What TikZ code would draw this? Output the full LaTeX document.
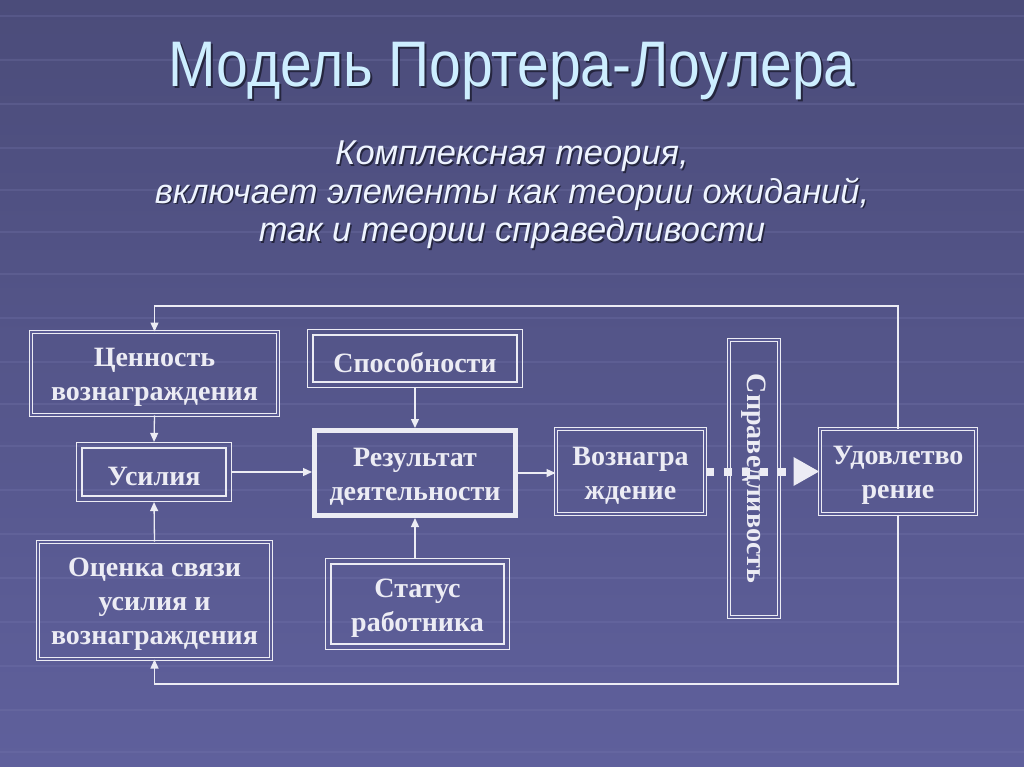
\documentclass[tikz,border=0pt]{standalone}
\usepackage{fontspec}
\setmainfont{Liberation Serif}
\newfontfamily\titlefont{Liberation Sans}
\usetikzlibrary{arrows.meta}
\definecolor{bgtop}{HTML}{4B4C7A}
\definecolor{bgbot}{HTML}{5F609C}
\definecolor{linecol}{HTML}{ECECF4}
\definecolor{titlecol}{HTML}{CDEEFF}
\definecolor{subcol}{HTML}{EEF4FF}
\definecolor{shadowcol}{HTML}{25263F}
\definecolor{gridcol}{HTML}{7A7BB0}
\tikzset{
  boxtext/.style={text=linecol, align=center, inner sep=0pt,
    font=\bfseries\fontsize{28}{34}\selectfont},
  lbl/.style={boxtext, yshift=-4pt},
  dbox/.style={draw=linecol, double=bgbot!80!bgtop, line width=1pt, double distance=2.2pt, inner sep=0pt},
  tbox/.style={draw=linecol, line width=1.2pt, inner sep=0pt},
  heavybox/.style={draw=linecol, line width=5pt, inner sep=0pt},
  arr/.style={draw=linecol, line width=1.3pt, -{Triangle[length=9pt,width=8pt]}},
  dotarr/.style={draw=linecol, line width=8pt, dash pattern=on 8pt off 10pt,
    -{Triangle[length=26pt,width=27pt]}},
  gridline/.style={draw=gridcol, line width=2pt, opacity=0.25},
  titlestyle/.style={font=\titlefont\fontsize{57}{60}\selectfont},
  substyle/.style={align=center, font=\titlefont\itshape\fontsize{34.5}{38.5}\selectfont}
}
\begin{document}
\begin{tikzpicture}[x=1pt,y=-1pt]
\useasboundingbox (0,0) rectangle (1024,767);
\shade[top color=bgtop, bottom color=bgbot] (0,0) rectangle (1024,767);
% faint background grid rows
\foreach \yy in {16,60,104,148,190,232,274,318,362,404,446,490,534,578,622,666,710,752}{
  \draw[gridline] (0,\yy) -- (1024,\yy);
}
% title
\node[text=shadowcol, titlestyle] at (514,73) {\scalebox{1}[1.13]{Модель Портера-Лоулера}};
\node (title) [text=titlecol, titlestyle] at (512,71) {\scalebox{1}[1.13]{Модель Портера-Лоулера}};
\node[text=shadowcol, substyle] at (513.5,196.5)
  {Комплексная теория,\\включает элементы как теории ожиданий,\\так и теории справедливости};
\node (sub) [text=subcol, substyle] at (512,195)
  {Комплексная теория,\\включает элементы как теории ожиданий,\\так и теории справедливости};
% boxes
\node (val)  [dbox, minimum width=247pt, minimum height=83pt] at (154.5,373.5) {};
\node (valt) [lbl] at (val.center) {Ценность\\вознаграждения};
\node (eff)  [tbox, minimum width=155pt, minimum height=59pt] at (154,472) {};
\draw[linecol, line width=2.4pt] ([shift={(6,6)}]eff.north west) rectangle ([shift={(-6,-6)}]eff.south east);
\node (efft) [lbl] at (eff.center) {Усилия};
\node (est)  [dbox, minimum width=233pt, minimum height=117pt] at (154.5,600.5) {};
\node (estt) [lbl] at (est.center) {Оценка связи\\усилия и\\вознаграждения};
\node (abil) [tbox, minimum width=215pt, minimum height=58pt] at (415,358.5) {};
\draw[linecol, line width=2.4pt] ([shift={(6,6)}]abil.north west) rectangle ([shift={(-6,-6)}]abil.south east);
\node (abilt) [lbl] at (abil.center) {Способности};
\node (res)  [heavybox, minimum width=201pt, minimum height=85pt] at (415,473) {};
\node (rest) [lbl] at (res.center) {Результат\\деятельности};
\node (stat) [tbox, minimum width=184pt, minimum height=91pt] at (417.5,604) {};
\draw[linecol, line width=2.4pt] ([shift={(6,6)}]stat.north west) rectangle ([shift={(-6,-6)}]stat.south east);
\node (statt) [lbl] at (stat.center) {Статус\\работника};
\node (rew)  [dbox, minimum width=149pt, minimum height=85pt] at (630.5,471.5) {};
\node (rewt) [lbl] at (rew.center) {Вознагра\\ждение};
\node (just) [dbox, minimum width=50pt, minimum height=277pt] at (754,478.5) {};
\node (justtext) [boxtext, rotate=-90] at (just.center) {Справедливость};
\node (sat)  [dbox, minimum width=156pt, minimum height=85pt] at (898,471.5) {};
\node (satt) [lbl] at (sat.center) {Удовлетво\\рение};
% connectors
\coordinate (ytop) at (0,306);
\coordinate (ybot) at (0,684);
\draw[arr] (val.south) -- (eff.north);
\draw[arr] (est.north) -- (eff.south);
\draw[arr] (eff.east) -- (eff.east -| res.west);
\draw[arr] (abil.south) -- (res.north);
\draw[arr] (stat.north -| res.south) -- (res.south);
\draw[arr] (res.east) -- (res.east -| rew.west);
\draw[dotarr] (rew.east) -- (sat.west);
\draw[arr] (sat.north) -- (sat.north |- ytop) -- (val.north |- ytop) -- (val.north);
\draw[arr] (sat.south) -- (sat.south |- ybot) -- (est.south |- ybot) -- (est.south);
\end{tikzpicture}
\end{document}
